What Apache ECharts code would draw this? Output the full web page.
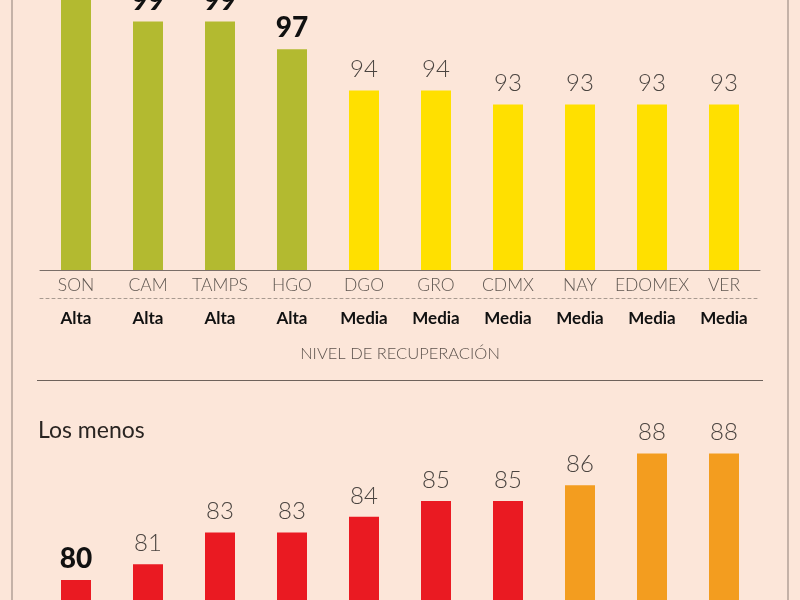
<!DOCTYPE html>
<html>
<head>
<meta charset="utf-8">
<script src="https://cdn.jsdelivr.net/npm/echarts@6/dist/echarts.min.js"></script>
<style>
html,body{margin:0;padding:0;background:#fce6d9;}
#c{width:800px;height:600px;}
</style>
</head>
<body>
<div id="c"></div>
<script>
// ---- data ----
const topStates = ['SON','CAM','TAMPS','HGO','DGO','GRO','CDMX','NAY','EDOMEX','VER'];
const topLevels = ['Alta','Alta','Alta','Alta','Media','Media','Media','Media','Media','Media'];
const topValues = [101, 99, 99, 97, 94, 94, 93, 93, 93, 93];
const bottomValues = [80, 81, 83, 83, 84, 85, 85, 86, 88, 88];
const axisTitle = 'NIVEL DE RECUPERACIÓN';
const bottomTitle = 'Los menos';

// ---- styles ----
const BG = '#fce6d9';
const levelColor = { 'Alta': '#b3ba30', 'Media': '#ffe000' };
const FONT = 'Lato, "Open Sans", sans-serif';
const boldLabel = { show: true, position: 'top', distance: 7, fontFamily: FONT, fontWeight: 900, fontSize: 28, color: '#111' };
const lightLabel = { show: true, position: 'top', distance: 9, fontFamily: FONT, fontWeight: 300, fontSize: 24, color: '#4a4440' };

const topData = topValues.map((v, i) => ({
  value: v,
  itemStyle: { color: levelColor[topLevels[i]] },
  label: topLevels[i] === 'Alta' ? boldLabel : lightLabel
}));
const minBottom = Math.min(...bottomValues);
const bottomData = bottomValues.map(v => ({
  value: v,
  itemStyle: { color: v >= 86 ? '#f39d1f' : '#ea1a22' },
  label: v === minBottom ? boldLabel : lightLabel
}));

const chart = echarts.init(document.getElementById('c'), null, { renderer: 'canvas' });
chart.setOption({
  backgroundColor: BG,
  animation: false,
  title: [
    { text: axisTitle, left: 'center', top: 340, textStyle: { fontFamily: FONT, fontWeight: 300, fontSize: 16.5, color: '#5e544e' } },
    { text: bottomTitle, left: 33, top: 414, textStyle: { fontFamily: FONT, fontWeight: 400, fontSize: 23, color: '#2a2522' } }
  ],
  grid: [
    { left: 40, right: 40, top: -6, height: 276, outerBoundsMode: 'none' },
    { left: 40, right: 40, top: 422, height: 316, outerBoundsMode: 'none' }
  ],
  xAxis: [
    { type: 'category', gridIndex: 0, data: topStates, position: 'bottom',
      axisLine: { lineStyle: { color: '#7a6e68', width: 1 } }, axisTick: { show: false },
      axisLabel: { interval: 0, margin: 6, fontFamily: FONT, fontWeight: 300, fontSize: 17.5, color: '#5e5650' } },
    { type: 'category', gridIndex: 0, data: topLevels, position: 'bottom', offset: 28,
      axisLine: { lineStyle: { color: '#a89a90', type: [3, 3], width: 1 } }, axisTick: { show: false },
      axisLabel: { interval: 0, margin: 12, fontFamily: FONT, fontWeight: 700, fontSize: 17, color: '#111' } },
    { type: 'category', gridIndex: 1, axisLine: { show: false }, axisTick: { show: false }, axisLabel: { show: false } }
  ],
  yAxis: [
    { type: 'value', gridIndex: 0, min: 81, max: 101, show: false, splitLine: { show: false } },
    { type: 'value', gridIndex: 1, min: 70, max: 90, show: false, splitLine: { show: false } }
  ],
  series: [
    { type: 'bar', xAxisIndex: 0, yAxisIndex: 0, barWidth: 30, data: topData },
    { type: 'bar', xAxisIndex: 2, yAxisIndex: 1, barWidth: 30, data: bottomData }
  ],
  graphic: [
    { type: 'line', shape: { x1: 12, y1: 0, x2: 12, y2: 600 }, style: { stroke: '#8d7f77', lineWidth: 1 } },
    { type: 'line', shape: { x1: 788, y1: 0, x2: 788, y2: 600 }, style: { stroke: '#8d7f77', lineWidth: 1 } },
    { type: 'line', shape: { x1: 37, y1: 380.5, x2: 763, y2: 380.5 }, style: { stroke: '#6e625b', lineWidth: 1 } }
  ]
});
</script>
</body>
</html>
